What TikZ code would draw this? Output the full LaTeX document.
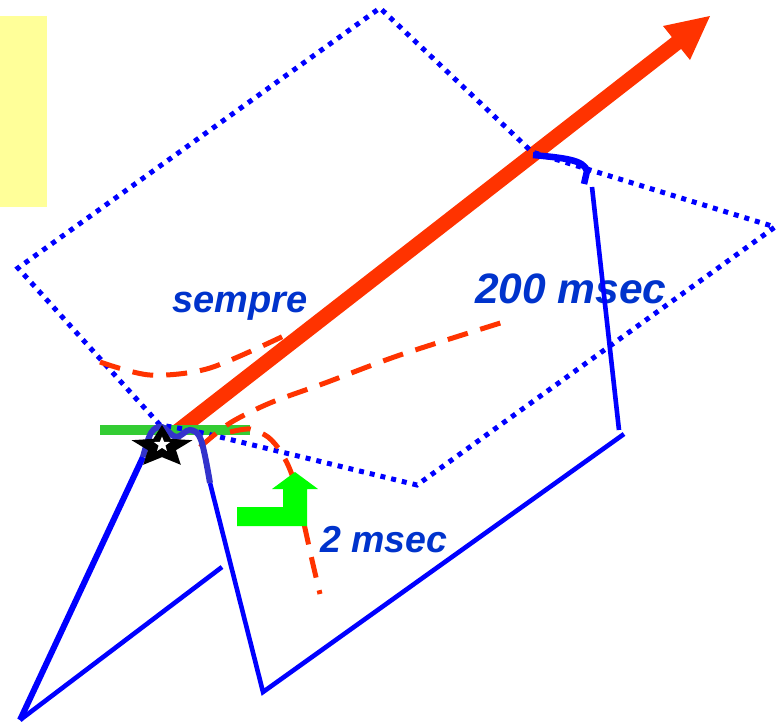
\documentclass[tikz,border=0pt]{standalone}
\usepackage{fontspec}
\setmainfont{Liberation Sans}
\definecolor{lblue}{HTML}{0000FF}
\definecolor{tblue}{HTML}{0033CC}
\definecolor{pblue}{HTML}{3333CC}
\definecolor{ored}{HTML}{FF3300}
\definecolor{gbar}{HTML}{33CC33}
\definecolor{garr}{HTML}{00FF00}
\definecolor{ylw}{HTML}{FFFF99}
\newcommand\mystarshape[1]{(90:1) -- (126:#1) -- (162:1) -- (198:#1) -- (234:1) -- (270:#1) -- (306:1) -- (342:#1) -- (18:1) -- (54:#1) -- cycle}
\begin{document}
\begin{tikzpicture}[x=1pt,y=-1pt,
  solidline/.style={draw=lblue, line width=4.6pt},
  dotline/.style={draw=lblue, line width=5pt, dash pattern=on 5pt off 6pt},
  reddash/.style={draw=ored, line width=5pt, dash pattern=on 21pt off 13pt},
  lbl/.style={text=tblue, inner sep=0pt, anchor=base west}]
\useasboundingbox (0,0) rectangle (781,724);
% yellow box
\fill[ylw] (0,16) rectangle (47,207);
% coordinates
\coordinate (L) at (18,268);
\coordinate (T) at (380,8);
\coordinate (TR) at (532,152);
\coordinate (R) at (775,227);
\coordinate (B) at (417,485);
\coordinate (S) at (160,425);
\coordinate (K1) at (592,187);
\coordinate (K2) at (619,430);
\coordinate (K3) at (624,434);
\coordinate (K4) at (263,692);
\coordinate (K5) at (210,483);
\coordinate (P1) at (143,457);
\coordinate (F) at (20,720);
\coordinate (G) at (222,567);
% labels
\node[lbl, font=\fontsize{38}{38}\selectfont\bfseries\itshape] (sempre) at (172,312) {sempre};
\node[lbl, font=\fontsize{42.5}{42.5}\selectfont\bfseries\itshape] (t200) at (475,303) {200 msec};
\node[lbl, font=\fontsize{37.5}{37.5}\selectfont\bfseries\itshape] (t2) at (320,552) {2 msec};
% red arrow
\fill[ored] (169.4,428.1) -- (671.9,37.1) -- (663,26) -- (710,16) -- (690,60) -- (681.1,48.9) -- (178.6,439.9) -- cycle;
% green bar
\draw[gbar, line width=10pt] (100,430) -- (250,430);
% blue solid lines
\draw[solidline] (K1) -- (K2);
\draw[solidline] (K3) -- (K4) -- (K5);
\draw[solidline, line width=6pt] (P1) -- (F);
\draw[solidline] (F) -- (G);
% dotted polygon
\draw[dotline] (S) -- (L) -- (T) -- (TR) -- (R) -- (B) -- (220,437) .. controls (190,430) .. (S);
% red dashed curves
\draw[reddash] plot[smooth] coordinates {(100,362) (150,375) (210,368) (292,332)};
\draw[reddash] plot[smooth] coordinates {(200,447) (230,423) (270,403) (325,383) (400,355) (510,320)};
\draw[reddash] plot[smooth] coordinates {(230,432) (250,429) (268,437) (281,452) (292,475) (302,515) (312,560) (320,594)};
% purple bump
\draw[pblue, line width=6pt] plot[smooth, tension=0.6] coordinates {(P1) (151,433) (162,427) (176,437) (190,430) (201,440) (K5)};
% thick blue corner
\draw[lblue, line width=6.5pt] (533,155) .. controls (565,158) and (584,160) .. (587,171) -- (584,184);
% star
\begin{scope}[shift={(162,447)}, xscale=32, yscale=-22]
  \fill[black] \mystarshape{0.46};
\end{scope}
\begin{scope}[shift={(162,444.5)}, xscale=8.5, yscale=-8]
  \fill[white] \mystarshape{0.42};
\end{scope}
% green bent arrow
\fill[garr] (237,507) -- (283,507) -- (283,489) -- (272,489) -- (295,472) -- (318,489) -- (307,489) -- (307,526) -- (237,526) -- cycle;
\end{tikzpicture}
\end{document}
